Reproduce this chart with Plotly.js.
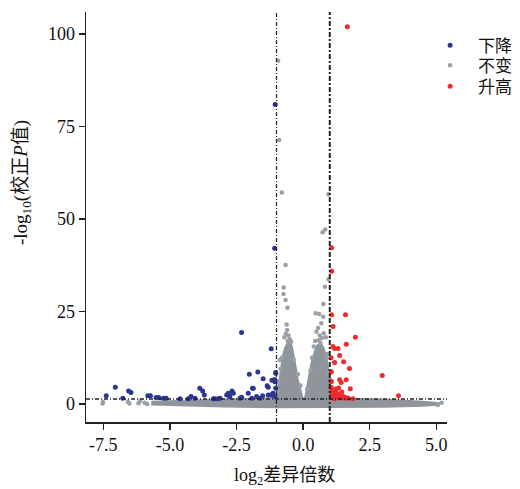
<!DOCTYPE html>
<html>
<head>
<meta charset="utf-8">
<script src="https://cdn.plot.ly/plotly-3.0.1.min.js"></script>
<style>html,body{margin:0;padding:0;background:#fff;}#chart{width:520px;height:489px;}</style>
</head>
<body>
<div id="chart"></div>
<script>
// ---- data ----
var seriesNames = ['下降', '不变', '升高'];

// down-regulated (blue)
var downX = [-2.31,-1.20,-2.02,-1.70,-1.50,-1.90,-1.17,-1.03,-1.06,-1.35,-1.31,-1.22,-1.13,-2.06,-2.67,-2.62,-2.37,-1.75,-1.62,-1.52,-1.93,-2.75,-3.88,-3.77,-3.71,-4.06,-4.21,-4.31,-4.62,-3.31,-3.12,-5.83,-5.73,-5.52,-5.42,-5.24,-5.14,-7.05,-6.55,-6.46,-7.39,-6.77,-1.05,-1.07,-1.03,-1.06,-1.03,-1.15,-1.06,-2.87,-2.81,-3.37,-3.19,-2.31,-1.87,-1.31,-1.09];
var downY = [19.3,14.9,8.0,8.6,6.8,4.2,6.4,8.5,6.0,4.9,2.4,2.4,2.9,2.9,3.5,2.9,1.5,2.0,1.5,2.2,1.5,2.0,4.2,3.5,2.4,1.5,2.0,1.4,1.4,1.4,1.5,2.2,2.2,1.7,1.7,1.5,1.5,4.5,3.5,3.1,2.2,1.5,81.0,42.1,8.3,6.5,4.2,2.4,2.0,2.4,2.9,1.4,1.4,1.8,4.2,4.5,6.5];

// up-regulated (red)
var upX = [1.66,1.07,1.07,1.07,1.59,1.12,1.96,1.62,1.12,1.18,1.31,1.37,1.52,1.18,1.74,2.97,1.06,1.37,1.43,1.62,1.77,3.58,1.87,1.05,1.10,1.15,1.20,1.25,1.30,1.35,1.40,1.45,1.50,1.55,1.12,1.08,1.22,1.33,1.18,1.28,1.60,1.70,1.06,1.05,1.04];
var upY = [102,42.2,35.9,24.1,24.1,20.9,18.0,16.1,15.5,15.0,15.0,13.1,11.4,11.2,9.6,7.7,8.7,6.5,5.8,6.5,4.1,2.2,1.4,4.5,3.5,2.8,2.2,3.0,1.8,2.5,1.6,3.2,2.0,1.5,1.6,2.4,4.0,4.3,1.4,2.6,1.7,1.5,6.0,12.5,6.2];

// not significant (gray) individual points
var nsX = [-0.94,-0.90,-0.80,0.95,0.73,0.83,-0.66,0.95,0.82,-0.73,-0.74,-0.66,-0.59,0.76,0.47,0.60,0.68,0.56,0.75,0.77,-0.62,-0.60,-0.65,-0.55,-0.70,-0.50,-0.58,-0.45,0.50,0.62,0.70,0.45,0.58,0.65,0.40,0.85,-0.92,-0.95,-0.85,-0.80,-0.35,-0.20,-0.10,0.15,0.28,0.33,0.88,0.97,0.92,-0.88,-7.51,-7.53,-6.58,-6.52,-6.18,-6.12,-5.95,-5.85,5.20,5.05];
var nsY = [92.8,71.4,57.2,56.7,46.4,47.2,37.6,33.7,31.7,31.5,29.7,28.1,26.0,27.0,24.5,24.3,21.8,20.5,23.6,19.1,21.5,20.0,19.0,18.5,18.0,17.5,17.0,16.8,19.5,18.5,17.8,17.0,17.2,16.5,15.5,18.0,6.0,3.5,9.5,12.5,12.0,8.0,5.0,4.0,9.0,12.5,12.5,8.0,13.5,11.9,0.5,0.1,0.6,0.1,0.2,0.8,0.3,0.0,0.3,-0.3];

// dense gray clouds (outline of the packed region)
var coneLX = [-0.98,-0.90,-0.83,-0.74,-0.65,-0.55,-0.45,-0.38,-0.30,-0.22,-0.12,-0.02,-0.98];
var coneLY = [1.0,5.0,9.5,13.0,15.3,16.5,15.8,13.5,10.0,6.5,3.5,1.0,1.0];
var coneRX = [0.08,0.16,0.25,0.33,0.45,0.55,0.65,0.75,0.85,0.93,0.99,1.02,0.08];
var coneRY = [1.0,4.0,7.5,11.0,14.0,15.8,16.2,15.0,12.5,9.0,5.0,1.0,1.0];
var bandX = [-5.7,-4.5,-3.0,-2.0,-1.2,1.2,2.5,3.5,4.5,5.1,5.1,4.5,3.0,1.0,-1.0,-3.0,-4.5,-5.7];
var bandY = [0.6,0.8,1.0,1.2,1.5,1.5,1.3,1.0,0.6,0.2,-0.2,-0.5,-0.8,-0.9,-0.9,-0.7,-0.5,-0.2];

var xTickVals = [-7.5,-5,-2.5,0,2.5,5];
var xTickText = ['-7.5','-5.0','-2.5','0.0','2.5','5.0'];
var yTickVals = [0,25,50,75,100];
var fcCut = [-1, 1];
var pCut = 1.3;

// ---- styling ----
var BLUE = '#2b3592', RED = '#ee2b2e', GRAY = '#9aa0a6', GRAYD = '#8f959b';
var FONT = 'Liberation Serif, "Times New Roman", "Noto Sans CJK SC", serif';

var traces = [
  {x: bandX, y: bandY, type: 'scatter', mode: 'lines', fill: 'toself', fillcolor: GRAYD,
   line: {color: GRAYD, width: 2}, showlegend: false, hoverinfo: 'skip'},
  {x: coneLX, y: coneLY, type: 'scatter', mode: 'lines', fill: 'toself', fillcolor: GRAYD,
   line: {color: GRAYD, width: 3}, showlegend: false, hoverinfo: 'skip'},
  {x: coneRX, y: coneRY, type: 'scatter', mode: 'lines', fill: 'toself', fillcolor: GRAYD,
   line: {color: GRAYD, width: 3}, showlegend: false, hoverinfo: 'skip'},
  {x: nsX, y: nsY, type: 'scatter', mode: 'markers', name: seriesNames[1], legend: 'legend2',
   marker: {color: GRAY, size: 4.5}},
  {x: downX, y: downY, type: 'scatter', mode: 'markers', name: seriesNames[0], legend: 'legend',
   marker: {color: BLUE, size: 5}},
  {x: upX, y: upY, type: 'scatter', mode: 'markers', name: seriesNames[2], legend: 'legend3',
   marker: {color: RED, size: 5}}
];

function leg(y) {
  return {x: 0.931, y: y, xanchor: 'left', yanchor: 'top', font: {size: 17, family: FONT, color: '#111'},
          itemwidth: 46, bgcolor: 'rgba(0,0,0,0)'};
}

var dd = '4px,2px,1px,2px';
var layout = {
  width: 520, height: 489,
  margin: {l: 86, r: 73, t: 12, b: 67, autoexpand: false},
  paper_bgcolor: '#fff', plot_bgcolor: '#fff',
  font: {family: FONT, size: 18, color: '#111'},
  showlegend: true,
  legend: leg(0.962), legend2: leg(0.913), legend3: leg(0.862),
  xaxis: {range: [-8.15, 5.4], tickvals: xTickVals, ticktext: xTickText, showgrid: false, zeroline: false,
          showline: true, linecolor: '#222', linewidth: 1.5, ticks: 'outside', ticklen: 6, tickwidth: 1.5,
          tickcolor: '#222', tickfont: {size: 18, family: FONT}},
  yaxis: {range: [-4.9, 106], tickvals: yTickVals, showgrid: false, zeroline: false,
          showline: true, linecolor: '#222', linewidth: 1.5, ticks: 'outside', ticklen: 6, tickwidth: 1.5,
          tickcolor: '#222', tickfont: {size: 18, family: FONT}},
  shapes: [
    {type: 'line', xref: 'x', yref: 'paper', x0: fcCut[0], x1: fcCut[0], y0: 0, y1: 1,
     line: {color: '#222', width: 1.2, dash: dd}},
    {type: 'line', xref: 'x', yref: 'paper', x0: fcCut[1], x1: fcCut[1], y0: 0, y1: 1,
     line: {color: '#222', width: 2, dash: '5px,2px,2px,2px'}},
    {type: 'line', xref: 'paper', yref: 'y', x0: 0, x1: 1, y0: pCut, y1: pCut,
     line: {color: '#222', width: 1.5, dash: dd}}
  ],
  annotations: [
    {text: '-log<sub>10</sub>(校正<i>P</i>值)', xref: 'paper', yref: 'paper', x: -0.177, y: 0.583,
     xanchor: 'center', yanchor: 'middle', textangle: -90, showarrow: false, font: {size: 19, family: FONT}},
    {text: 'log<sub>2</sub>差异倍数', xref: 'paper', yref: 'paper', x: 0.551, y: -0.132,
     xanchor: 'center', yanchor: 'middle', showarrow: false, font: {size: 18, family: FONT}}
  ]
};

Plotly.newPlot('chart', traces, layout, {displayModeBar: false, staticPlot: true});
</script>
</body>
</html>
